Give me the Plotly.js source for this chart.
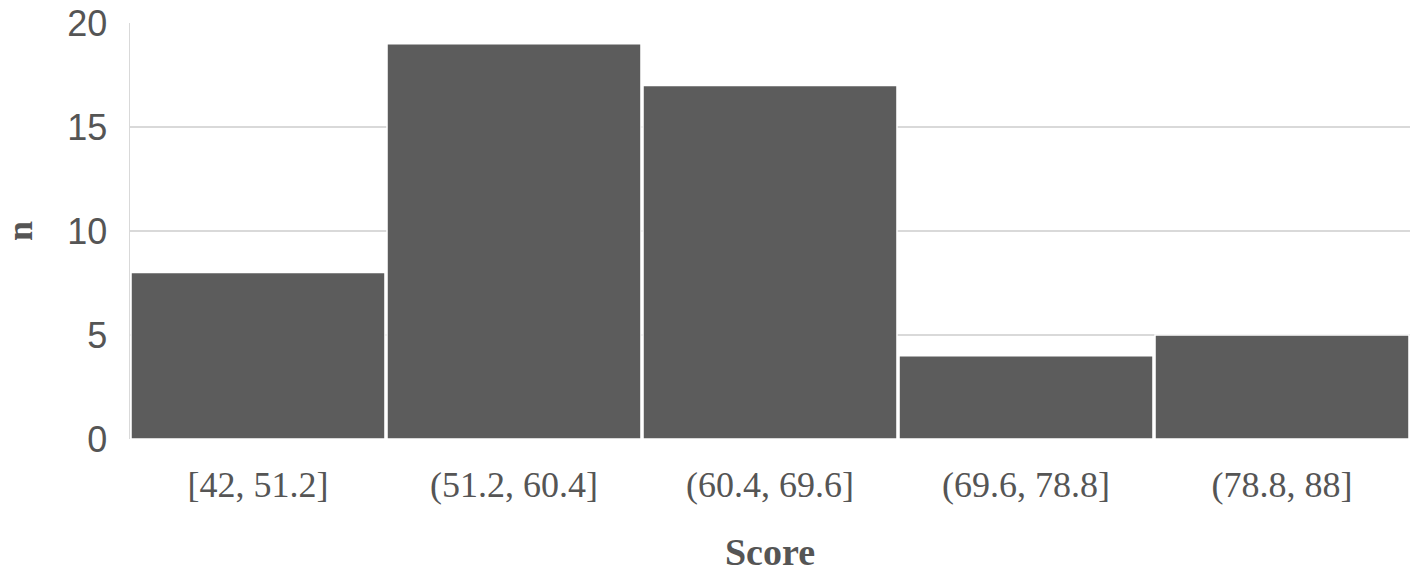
<!DOCTYPE html>
<html>
<head>
<meta charset="utf-8">
<script src="https://cdn.plot.ly/plotly-3.0.1.min.js"></script>
<style>html,body{margin:0;padding:0;background:#fff;}#chart{width:1418px;height:576px;}</style>
</head>
<body>
<div id="chart"></div>
<script>
const categories = ["[42, 51.2]", "(51.2, 60.4]", "(60.4, 69.6]", "(69.6, 78.8]", "(78.8, 88]"];
const counts = [8, 19, 17, 4, 5];
const yTickVals = [0, 5, 10, 15, 20];
const xTitle = "Score";
const yTitle = "n";

const trace = {
  type: "bar",
  x: categories,
  y: counts,
  marker: {color: "#5c5c5c", line: {color: "#ffffff", width: 1.5}},
  hoverinfo: "x+y"
};

const layout = {
  width: 1418,
  height: 576,
  margin: {l: 130, r: 8, t: 23, b: 137},
  paper_bgcolor: "#ffffff",
  plot_bgcolor: "#ffffff",
  bargap: 0.008,
  showlegend: false,
  xaxis: {
    type: "category",
    showgrid: false,
    showline: false,
    zeroline: false,
    ticks: "",
    tickfont: {family: "Liberation Serif, Times New Roman, serif", size: 36, color: "#555555"},
    ticklabelstandoff: 21,
    title: {text: "<b>" + xTitle + "</b>", font: {family: "Liberation Serif, Times New Roman, serif", size: 38, color: "#555555"}, standoff: 34}
  },
  yaxis: {
    range: [0, 20],
    tickvals: yTickVals,
    ticktext: yTickVals.map(String),
    showgrid: true,
    gridcolor: "#d9d9d9",
    gridwidth: 1.5,
    showline: true,
    linecolor: "#d9d9d9",
    linewidth: 1.5,
    zeroline: false,
    ticks: "",
    tickfont: {family: "Liberation Sans, Arial, sans-serif", size: 36, color: "#555555"},
    ticklabelstandoff: 14,
    title: {text: "<b>" + yTitle + "</b>", font: {family: "Liberation Serif, Times New Roman, serif", size: 36, color: "#555555"}, standoff: 48}
  }
};

Plotly.newPlot("chart", [trace], layout, {displayModeBar: false, staticPlot: true});
</script>
</body>
</html>
